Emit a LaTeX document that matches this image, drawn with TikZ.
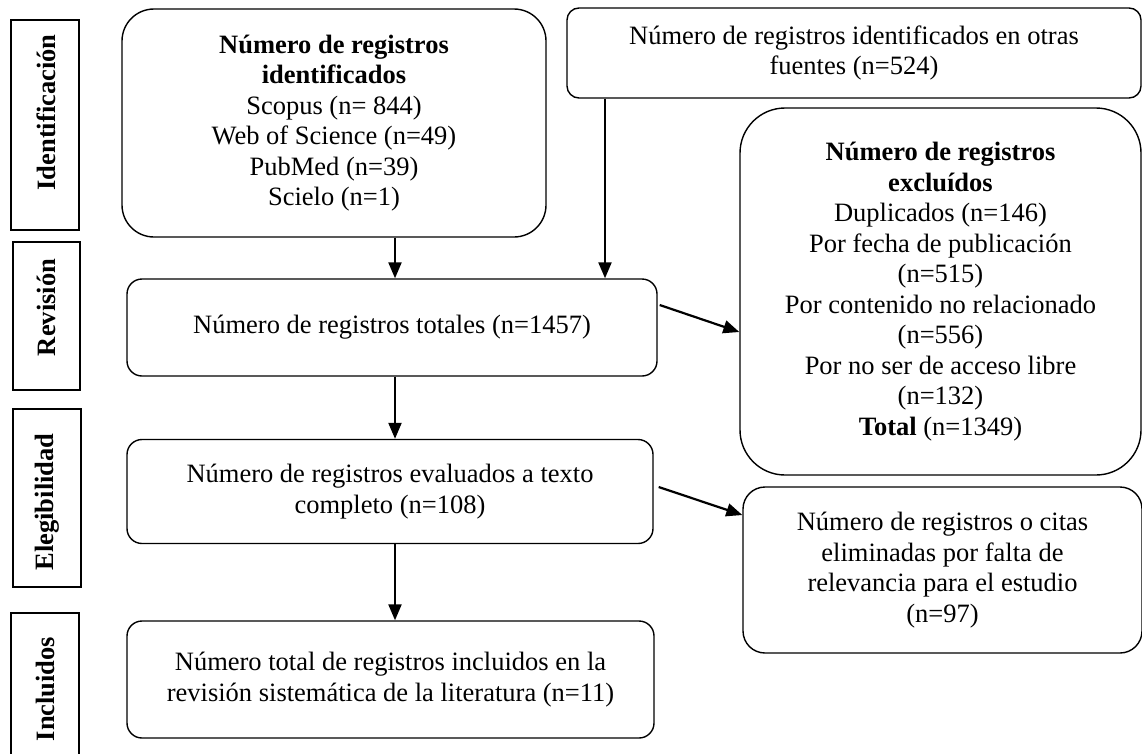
\documentclass[tikz,border=0pt]{standalone}
\usepackage{fontspec}
\setmainfont{Liberation Serif}
\usetikzlibrary{arrows.meta,calc}
\begin{document}
\begin{tikzpicture}[x=1pt,y=-1pt,
  box/.style={draw, line width=1.4pt, inner sep=0pt, align=center,
    font=\fontsize{26.5}{30.5}\selectfont},
  lab/.style={draw, line width=1.6pt, inner sep=0pt},
  labtext/.style={rotate=90, inner sep=0pt, font=\fontsize{26.5}{30.5}\selectfont\bfseries},
  arr/.style={line width=2.2pt, -{Triangle[length=16pt,width=13pt]}}]
\useasboundingbox (0,0) rectangle (1142,753);
% phase labels
\node[lab, minimum width=68pt, minimum height=210pt] (lid) at (45,125) {};
\node[labtext] (tid) at (46,112.5) {Identificación};
\node[lab, minimum width=67pt, minimum height=148pt] (lrev) at (46.5,316) {};
\node[labtext] (trev) at (46.5,307.5) {Revisión};
\node[lab, minimum width=68pt, minimum height=178pt] (leg) at (47,498) {};
\node[labtext] (teg) at (47,502) {Elegibilidad};
\node[lab, minimum width=68pt, minimum height=170pt] (linc) at (45,698) {};
\node[labtext] (tinc) at (45,689) {Incluidos};
% main boxes
\node[box, rounded corners=32pt, minimum width=424pt, minimum height=228pt] (ident) at (334,123)
  {\textbf{Número de registros}\\\textbf{identificados}\\Scopus (n= 844)\\Web of Science (n=49)\\PubMed (n=39)\\Scielo (n=1)};
\node[box, rounded corners=12pt, minimum width=574pt, minimum height=90pt] (otras) at (854,53)
  {Número de registros identificados en otras\\fuentes (n=524)};
\node[box, rounded corners=15pt, minimum width=530pt, minimum height=97pt] (tot) at (392,327.5)
  {Número de registros totales (n=1457)};
\node[box, rounded corners=45pt, minimum width=401pt, minimum height=367pt] (excl) at (940.5,291.5)
  {\textbf{Número de registros}\\\textbf{excluídos}\\Duplicados (n=146)\\Por fecha de publicación\\(n=515)\\Por contenido no relacionado\\(n=556)\\Por no ser de acceso libre\\(n=132)\\\textbf{Total} (n=1349)};
\node[box, rounded corners=15pt, minimum width=526pt, minimum height=104pt] (eval) at (390,491.5)
  {Número de registros evaluados a texto\\completo (n=108)};
\node[box, rounded corners=22pt, minimum width=399pt, minimum height=166pt] (elim) at (942.5,570)
  {Número de registros o citas\\eliminadas por falta de\\relevancia para el estudio\\(n=97)};
\node[box, rounded corners=15pt, minimum width=527pt, minimum height=117pt] (incl) at (390.5,679.5)
  {Número total de registros incluidos en la\\revisión sistemática de la literatura (n=11)};
% connectors
\coordinate (cx) at (395,0);
\coordinate (ox) at (605,0);
\draw[arr] (ident.south -| cx) -- (tot.north -| cx);
\draw[arr] (otras.south -| ox) -- (tot.north -| ox);
\draw[arr] ($(tot.east)+(2,-22.5)$) -- ($(excl.west)+(0,40.5)$);
\draw[arr] (tot.south -| cx) -- (eval.north -| cx);
\draw[arr] ($(eval.east)+(5,-4.5)$) -- ($(elim.west)+(0,-55)$);
\draw[arr] (eval.south -| cx) -- (incl.north -| cx);
\end{tikzpicture}
\end{document}
